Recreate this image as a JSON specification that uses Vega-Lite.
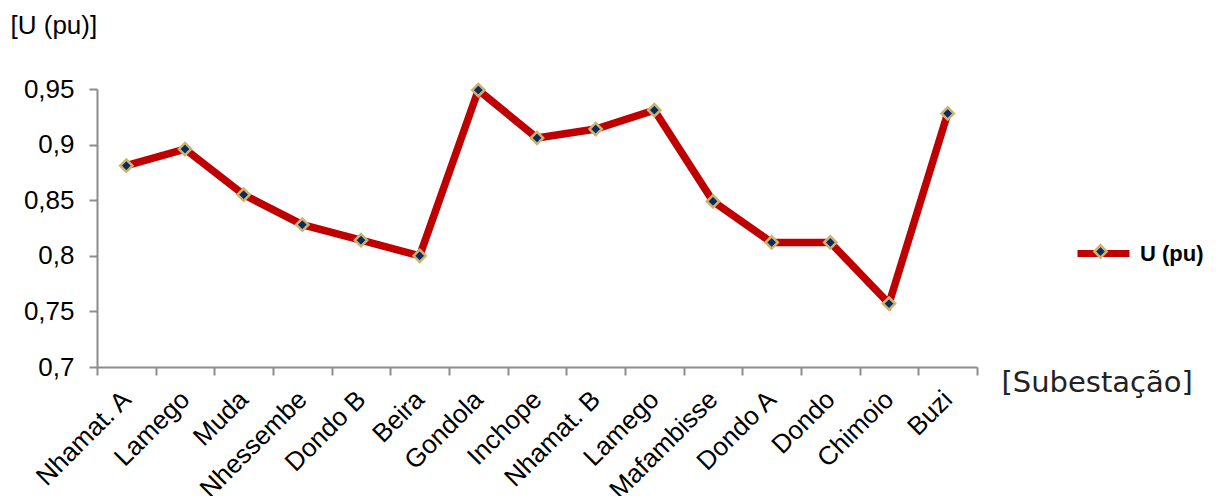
{
  "$schema": "https://vega.github.io/schema/vega-lite/v6.json",
  "width": 880,
  "height": 278,
  "autosize": "none",
  "padding": {"left": 97, "top": 89, "right": 242, "bottom": 129},
  "background": "white",
  "config": {"view": {"stroke": null}, "font": "Liberation Sans"},
  "data": {"values": [
    {"idx": 1, "station": "Nhamat. A", "u": 0.881, "series": "U (pu)", "marker": "U (pu) marker"},
    {"idx": 2, "station": "Lamego", "u": 0.896, "series": "U (pu)", "marker": "U (pu) marker"},
    {"idx": 3, "station": "Muda", "u": 0.855, "series": "U (pu)", "marker": "U (pu) marker"},
    {"idx": 4, "station": "Nhessembe", "u": 0.828, "series": "U (pu)", "marker": "U (pu) marker"},
    {"idx": 5, "station": "Dondo B", "u": 0.814, "series": "U (pu)", "marker": "U (pu) marker"},
    {"idx": 6, "station": "Beira", "u": 0.8, "series": "U (pu)", "marker": "U (pu) marker"},
    {"idx": 7, "station": "Gondola", "u": 0.949, "series": "U (pu)", "marker": "U (pu) marker"},
    {"idx": 8, "station": "Inchope", "u": 0.906, "series": "U (pu)", "marker": "U (pu) marker"},
    {"idx": 9, "station": "Nhamat. B", "u": 0.914, "series": "U (pu)", "marker": "U (pu) marker"},
    {"idx": 10, "station": "Lamego", "u": 0.931, "series": "U (pu)", "marker": "U (pu) marker"},
    {"idx": 11, "station": "Mafambisse", "u": 0.849, "series": "U (pu)", "marker": "U (pu) marker"},
    {"idx": 12, "station": "Dondo A", "u": 0.812, "series": "U (pu)", "marker": "U (pu) marker"},
    {"idx": 13, "station": "Dondo", "u": 0.812, "series": "U (pu)", "marker": "U (pu) marker"},
    {"idx": 14, "station": "Chimoio", "u": 0.757, "series": "U (pu)", "marker": "U (pu) marker"},
    {"idx": 15, "station": "Buzi", "u": 0.928, "series": "U (pu)", "marker": "U (pu) marker"}
  ]},
  "encoding": {
    "x": {
      "field": "idx",
      "type": "ordinal",
      "scale": {"type": "band", "paddingInner": 0, "paddingOuter": 0},
      "axis": {
        "labelExpr": "['Nhamat. A','Lamego','Muda','Nhessembe','Dondo B','Beira','Gondola','Inchope','Nhamat. B','Lamego','Mafambisse','Dondo A','Dondo','Chimoio','Buzi'][datum.value-1]",
        "labelAngle": -45,
        "labelAlign": "right",
        "labelBaseline": "middle",
        "labelFontSize": 26,
        "labelColor": "#000000",
        "labelPadding": 20,
        "labelOverlap": false,
        "tickBand": "extent",
        "tickSize": 8,
        "tickColor": "#8c8c8c",
        "tickWidth": 2,
        "domainColor": "#8c8c8c",
        "domainWidth": 2,
        "grid": false,
        "title": "[Subestação]",
        "titleFont": "DejaVu Sans",
        "titleFontSize": 29,
        "titleFontWeight": "normal",
        "titleColor": "#222222",
        "titleAlign": "left",
        "titleBaseline": "middle",
        "titleAngle": 0,
        "titleX": 904,
        "titleY": 15
      }
    },
    "y": {
      "field": "u",
      "type": "quantitative",
      "scale": {"domain": [0.7, 0.95], "nice": false, "zero": false},
      "axis": {
        "values": [0.7, 0.75, 0.8, 0.85, 0.9, 0.95],
        "labelExpr": "replace(format(datum.value, '.2~f'), '.', ',')",
        "labelFontSize": 26,
        "labelColor": "#000000",
        "labelPadding": 15,
        "tickSize": 8,
        "tickColor": "#8c8c8c",
        "tickWidth": 2,
        "domainColor": "#8c8c8c",
        "domainWidth": 2,
        "grid": false,
        "title": "[U (pu)]",
        "titleFontSize": 26,
        "titleFontWeight": "normal",
        "titleColor": "#000000",
        "titleAngle": 0,
        "titleAlign": "left",
        "titleBaseline": "middle",
        "titleX": -87,
        "titleY": -64
      }
    }
  },
  "layer": [
    {
      "mark": {"type": "line", "strokeWidth": 7.5, "strokeJoin": "miter"},
      "encoding": {
        "stroke": {
          "field": "series",
          "type": "nominal",
          "scale": {"range": ["#c00000"]},
          "legend": {
            "orient": "none",
            "legendX": 977,
            "legendY": 135,
            "title": null,
            "padding": 0,
            "symbolType": "stroke",
            "symbolSize": 2704,
            "symbolStrokeWidth": 7,
            "labelFontSize": 22,
            "labelFontWeight": "bold",
            "labelColor": "#000000",
            "labelOffset": 7
          }
        }
      }
    },
    {
      "mark": {"type": "point", "shape": "diamond", "filled": true, "size": 150, "strokeWidth": 2.5, "opacity": 1},
      "encoding": {
        "fill": {
          "field": "marker",
          "type": "nominal",
          "scale": {"range": ["#0b2a63"]},
          "legend": {
            "orient": "none",
            "legendX": 996,
            "legendY": 155,
            "title": null,
            "padding": 0,
            "symbolType": "diamond",
            "symbolSize": 150,
            "symbolStrokeColor": "#cdb46e",
            "symbolStrokeWidth": 2.5,
            "symbolOpacity": 1,
            "labelExpr": "''"
          }
        },
        "stroke": {"value": "#cdb46e"}
      }
    }
  ]
}
